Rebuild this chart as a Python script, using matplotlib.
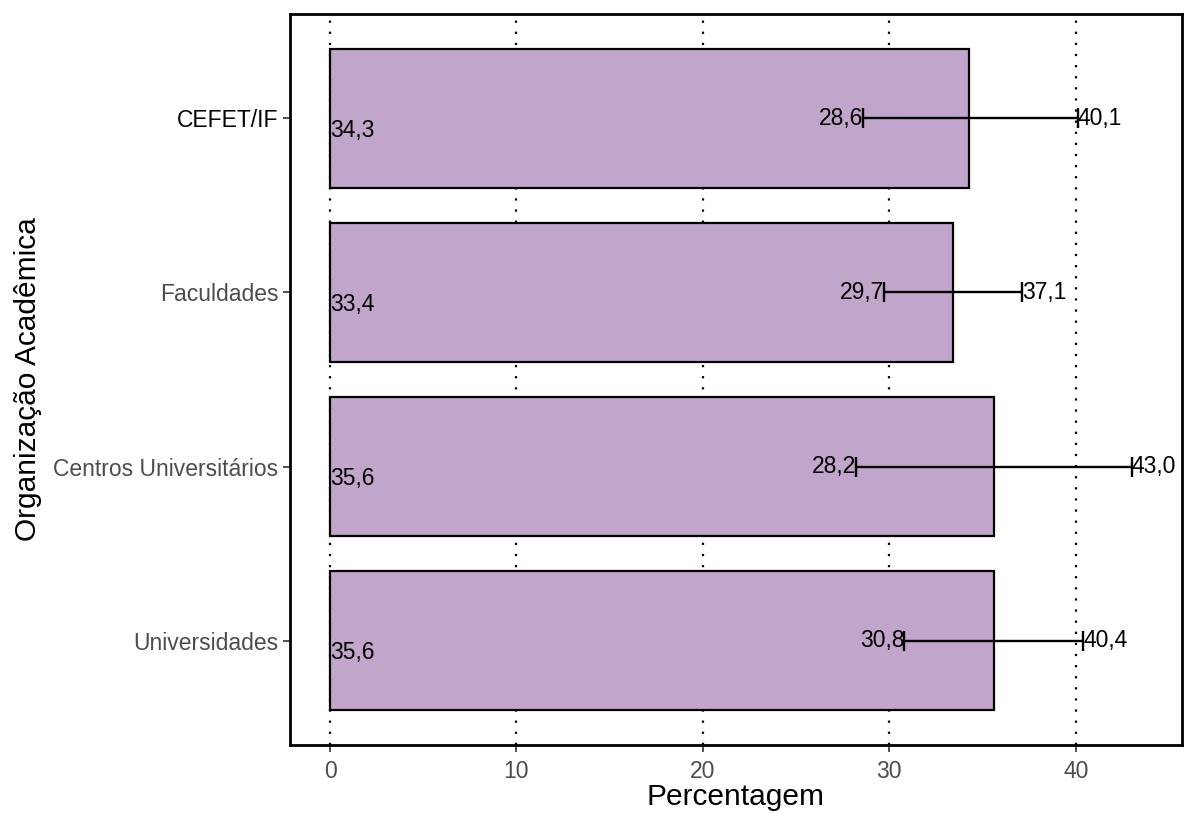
import matplotlib
matplotlib.use("Agg")
import matplotlib.pyplot as plt

categories = ["Universidades", "Centros Universitários", "Faculdades", "CEFET/IF"]
values = [35.6, 35.6, 33.4, 34.3]
lower = [30.8, 28.2, 29.7, 28.6]
upper = [40.4, 43.0, 37.1, 40.1]
xticks = [0, 10, 20, 30, 40]

def fmt(v):
    return f"{v:.1f}".replace(".", ",")

plt.rcParams['font.family'] = ['Liberation Sans', 'DejaVu Sans']

fig = plt.figure(figsize=(11.86, 8.14), dpi=100)
ax = fig.add_axes([0.2445, 0.0848, 0.7521, 0.898])

ypos = list(range(len(categories)))
for x in xticks:
    ax.axvline(x, color='black', linestyle=(0, (1, 4)), linewidth=1.6, zorder=0)

ax.barh(ypos, values, height=0.8, color='#C2A5CB', edgecolor='black', linewidth=1.6, zorder=2)
err_lo = [v - l for v, l in zip(values, lower)]
err_hi = [u - v for v, u in zip(values, upper)]
ax.errorbar(values, ypos, xerr=[err_lo, err_hi], fmt='none', ecolor='black',
            elinewidth=1.7, capsize=7, capthick=1.7, zorder=3)

for y, v, l, u in zip(ypos, values, lower, upper):
    ax.text(0, y - 0.07, fmt(v), ha='left', va='center', fontsize=16.5, color='black', zorder=4)
    ax.text(l, y, fmt(l), ha='right', va='center', fontsize=16.5, color='black', zorder=4)
    ax.text(u, y, fmt(u), ha='left', va='center', fontsize=16.5, color='black', zorder=4)

ax.set_xlim(-2.15, 45.7)
ax.set_ylim(-0.6, 3.6)
ax.set_xticks(xticks)
ax.set_xticklabels([str(x) for x in xticks])
ax.set_yticks(ypos)
ax.set_yticklabels(categories)
for lbl in ax.get_yticklabels():
    lbl.set_color('black' if lbl.get_text() == 'CEFET/IF' else '#4D4D4D')
for lbl in ax.get_xticklabels():
    lbl.set_color('#4D4D4D')
ax.tick_params(axis='both', labelsize=16.5, length=5, width=1.2, color='#333333')
ax.tick_params(axis='x', pad=6)
ax.set_xlabel("Percentagem", fontsize=21.5, labelpad=0)
ax.set_ylabel("Organização Acadêmica", fontsize=21.5, labelpad=8)
for s in ax.spines.values():
    s.set_linewidth(2)
    s.set_color('black')

fig.savefig("out.png", dpi=100)
